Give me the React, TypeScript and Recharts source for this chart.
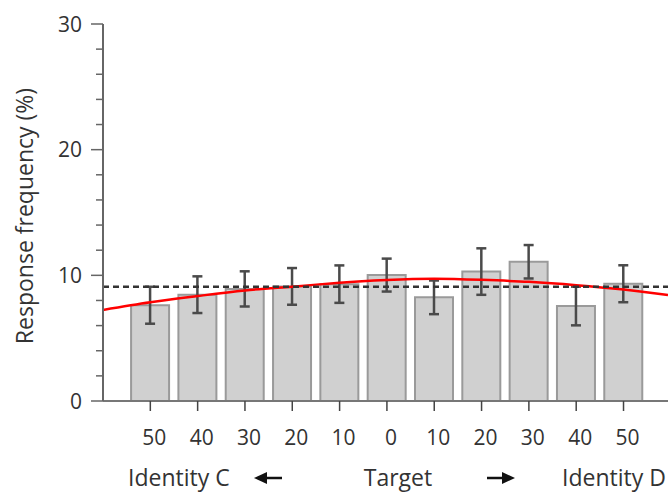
import { ComposedChart, Bar, Line, XAxis, YAxis, ErrorBar, ReferenceLine } from 'recharts';

const FONT = "'Open Sans', 'Noto Sans', sans-serif";

// morph steps, from Identity C (50) through Target (0) to Identity D (50)
const morphLabels = ['50', '40', '30', '20', '10', '0', '10', '20', '30', '40', '50'];
const responseMeans = [7.62, 8.46, 8.92, 9.12, 9.3, 10.02, 8.25, 10.3, 11.08, 7.56, 9.33];
const responseErrors = [1.47, 1.46, 1.4, 1.46, 1.49, 1.31, 1.34, 1.85, 1.33, 1.54, 1.47];

// fitted curve
const fitX = [-1, 0, 1, 2, 3, 4, 5, 6, 7, 8, 9, 10, 10.94];
const fitY = [7.24, 7.85, 8.35, 8.8, 9.1, 9.41, 9.63, 9.73, 9.64, 9.48, 9.22, 8.87, 8.44];

const chanceLevel = 9.1;
const yTicks = [0, 2, 4, 6, 8, 10, 12, 14, 16, 18, 20, 22, 24, 26, 28, 30];

const barData = morphLabels.map((label, i) => ({
  x: i,
  label,
  mean: responseMeans[i],
  err: responseErrors[i],
}));

const fitData = fitX.map((x, i) => ({ x, y: fitY[i] }));

const YTick = ({ x, y, payload }: any) => {
  const major = payload.value % 10 === 0;
  return (
    <g>
      <line x1={x - (major ? 12 : 7)} x2={x} y1={y} y2={y} stroke="#666" strokeWidth={1.5} />
      {major && (
        <text x={x - 21} y={y} dy="0.36em" textAnchor="end" fontSize={21} fill="#333" fontFamily={FONT}>
          {payload.value}
        </text>
      )}
    </g>
  );
};

const XTick = ({ x, y, payload }: any) => (
  <text x={x + 4} y={y} dy="0.71em" textAnchor="middle" fontSize={21} fill="#333" fontFamily={FONT}>
    {morphLabels[payload.value]}
  </text>
);

const BottomLabels = () => {
  const base = 486;
  const ay = 478;
  return (
    <g fontFamily={FONT} fontSize={23} fill="#333">
      <text x={128} y={base}>Identity C</text>
      <line x1={262} x2={282} y1={ay} y2={ay} stroke="#111" strokeWidth={2.5} />
      <polygon points={`254,${ay} 267,${ay - 6} 267,${ay + 6}`} fill="#111" />
      <text x={398} y={base} textAnchor="middle">Target</text>
      <line x1={487} x2={507} y1={ay} y2={ay} stroke="#111" strokeWidth={2.5} />
      <polygon points={`515,${ay} 502,${ay - 6} 502,${ay + 6}`} fill="#111" />
      <text x={666} y={base} textAnchor="end">Identity D</text>
    </g>
  );
};

const YLabel = () => (
  <text
    x={33}
    y={216}
    transform="rotate(-90, 33, 216)"
    textAnchor="middle"
    fontSize={23}
    fill="#333"
    fontFamily={FONT}
  >
    Response frequency (%)
  </text>
);

export default function App() {
  return (
    <div style={{ position: 'absolute', left: 0, top: 0, width: 668, height: 494, background: '#fff' }}>
      <ComposedChart
        width={668}
        height={494}
        data={barData}
        margin={{ top: 24, right: 0, left: 0, bottom: 0 }}
      >
        <XAxis
          type="number"
          dataKey="x"
          domain={[-1, 10.94]}
          allowDataOverflow
          ticks={[0, 1, 2, 3, 4, 5, 6, 7, 8, 9, 10]}
          height={93}
          tickSize={10}
          tickMargin={19}
          tick={<XTick />}
          tickLine={{ stroke: '#444', strokeWidth: 1.5 }}
          axisLine={{ stroke: '#777', strokeWidth: 2 }}
          label={<BottomLabels />}
        />
        <YAxis
          type="number"
          domain={[0, 30]}
          ticks={yTicks}
          interval={0}
          width={103}
          tickSize={0}
          tickMargin={0}
          tickLine={false}
          tick={<YTick />}
          axisLine={{ stroke: '#666', strokeWidth: 2 }}
          label={<YLabel />}
        />
        <Bar
          dataKey="mean"
          barSize={38}
          fill="#d0d0d0"
          stroke="#9a9a9a"
          strokeWidth={2}
          isAnimationActive={false}
        >
          <ErrorBar dataKey="err" direction="y" width={5} stroke="#4a4a4a" strokeWidth={2.5} />
        </Bar>
        <Line
          data={fitData}
          dataKey="y"
          type="natural"
          stroke="#ff0000"
          strokeWidth={2.5}
          dot={false}
          activeDot={false}
          isAnimationActive={false}
        />
        <ReferenceLine y={chanceLevel} stroke="#333" strokeWidth={2.5} strokeDasharray="6 4" />
      </ComposedChart>
    </div>
  );
}
